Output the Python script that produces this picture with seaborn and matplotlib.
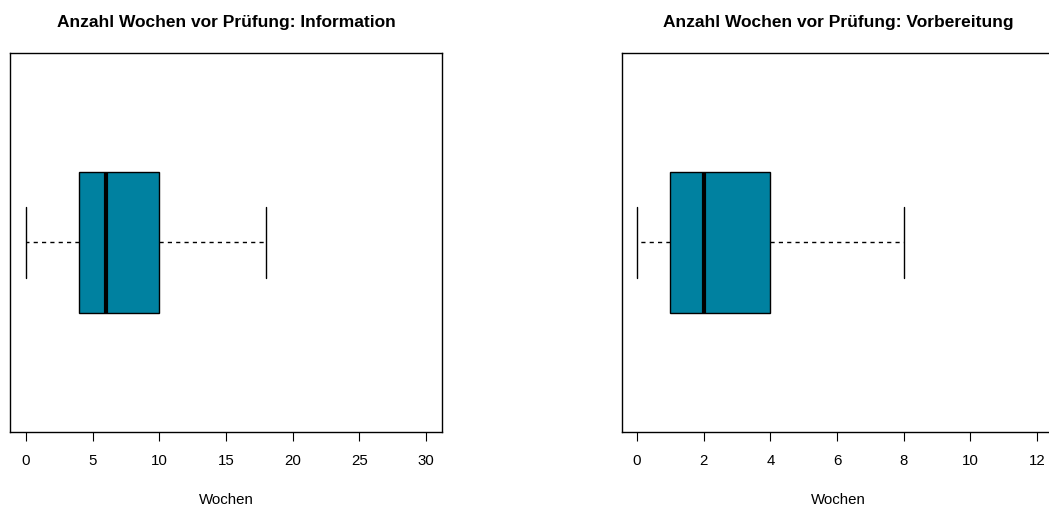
import matplotlib
matplotlib.use("Agg")
import matplotlib.pyplot as plt
import seaborn as sns

# Wochen vor der Prüfung (Werte so gewählt, dass Quartile/Whisker dem Bild entsprechen)
wochen_information = [0, 4, 6, 10, 18]
wochen_vorbereitung = [0, 1, 2, 4, 8]

titles = ["Anzahl Wochen vor Prüfung: Information",
          "Anzahl Wochen vor Prüfung: Vorbereitung"]
xticks_info = [0, 5, 10, 15, 20, 25, 30]
xticks_vorb = [0, 2, 4, 6, 8, 10, 12]

box_color = "#0081A0"

sns.set_style("white")
plt.rcParams["font.family"] = ["Liberation Sans", "DejaVu Sans"]
plt.rcParams["text.color"] = "black"
plt.rcParams["axes.labelcolor"] = "black"
plt.rcParams["xtick.color"] = "black"

fig = plt.figure(figsize=(10.49, 5.08), dpi=100)
ax1 = fig.add_axes([0.00953, 0.1496, 0.4119, 0.7461])
ax2 = fig.add_axes([0.5930, 0.1496, 0.4119, 0.7461])

panels = [
    (ax1, wochen_information, titles[0], xticks_info, (-1.2, 31.2)),
    (ax2, wochen_vorbereitung, titles[1], xticks_vorb, (-0.45, 12.51)),
]

for ax, values, title, ticks, xlim in panels:
    sns.boxplot(
        x=values, ax=ax, orient="h", width=0.4, color=box_color,
        saturation=1, linecolor="black", linewidth=1, showfliers=False,
        whis=1.5,
        medianprops={"linewidth": 3, "color": "black"},
        whiskerprops={"linestyle": (0, (3, 3)), "linewidth": 1},
        capprops={"linewidth": 1},
    )
    ax.set_ylim(0.54, -0.54)
    ax.set_xlim(*xlim)
    ax.set_yticks([])
    ax.set_xticks(ticks)
    ax.set_xticklabels([str(t) for t in ticks], fontsize=10.8, color="black")
    ax.tick_params(axis="x", bottom=True, length=6.5, width=0.8,
                   color="black", pad=9.5)
    for sp in ax.spines.values():
        sp.set_visible(True)
        sp.set_color("black")
        sp.set_linewidth(1)
    ax.set_xlabel("Wochen", fontsize=10.8, labelpad=18, color="black")
    ax.set_ylabel("")
    ax.set_title(title, fontsize=12.5, fontweight="bold", pad=19, color="black")

fig.savefig("out.png", dpi=100)
